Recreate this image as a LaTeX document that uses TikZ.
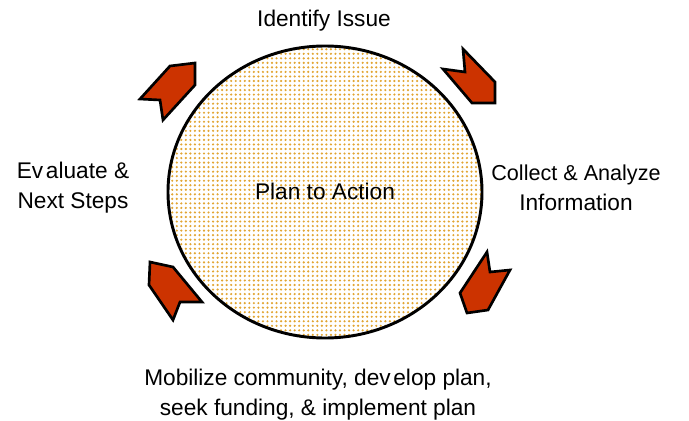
\documentclass[tikz,border=0pt]{standalone}
\usepackage{fontspec}
\setmainfont{Liberation Sans}
\usetikzlibrary{patterns}
\pgfdeclarepatternformonly{bigdots}{\pgfqpoint{-1pt}{-1pt}}{\pgfqpoint{1pt}{1pt}}{\pgfqpoint{3.4pt}{3.4pt}}{\pgfpathcircle{\pgfqpoint{0pt}{0pt}}{0.9pt}\pgfusepath{fill}}
\definecolor{arrowred}{RGB}{204,51,0}
\definecolor{dotcol}{RGB}{226,165,50}
\tikzset{
  chev/.style={fill=arrowred, draw=black, line width=2pt, line join=miter},
  lbl/.style={font=\fontsize{17}{22.5}\selectfont, align=center, inner sep=0pt},
}
\begin{document}
\begin{tikzpicture}[x=0.75pt, y=-0.75pt]
\useasboundingbox (0,0) rectangle (689,421);
% central circle
\fill[white] (325,192) ellipse [x radius=157, y radius=146];
\fill[pattern=bigdots, pattern color=dotcol] (325,192) ellipse [x radius=157, y radius=146];
\draw[line width=2.2pt] (325,192) ellipse [x radius=157, y radius=146];
\node[lbl] (center) at (325,191) {Plan to Action};
% arrows
\draw[chev] (140,99) -- (170,66) -- (195,63) -- (195,85) -- (163,120) -- (160,100) -- cycle;
\draw[chev] (463,49) -- (495,82) -- (495,103) -- (472,103) -- (443,69) -- (465,72) -- cycle;
\draw[chev] (487,252) -- (490,272) -- (510,270) -- (488,310) -- (467,313) -- (460,293) -- cycle;
\draw[chev] (150,262) -- (173,267) -- (202,302) -- (180,302) -- (173,320) -- (149,285) -- cycle;
% labels
\node[lbl] (identify) at (324,21) {Identify Issue};
\node[lbl] (collect) at (576,188) {\fontsize{16.2}{22.5}\selectfont Collect \& Analyze\\Information};
\node[lbl] (evaluate) at (73,188) {Ev\kern2pt aluate \&\\Next Steps};
\node[lbl] (mobilize) at (318,395) {Mobilize community, dev\kern2pt elop plan,\\seek funding, \& implement plan};
\end{tikzpicture}
\end{document}
